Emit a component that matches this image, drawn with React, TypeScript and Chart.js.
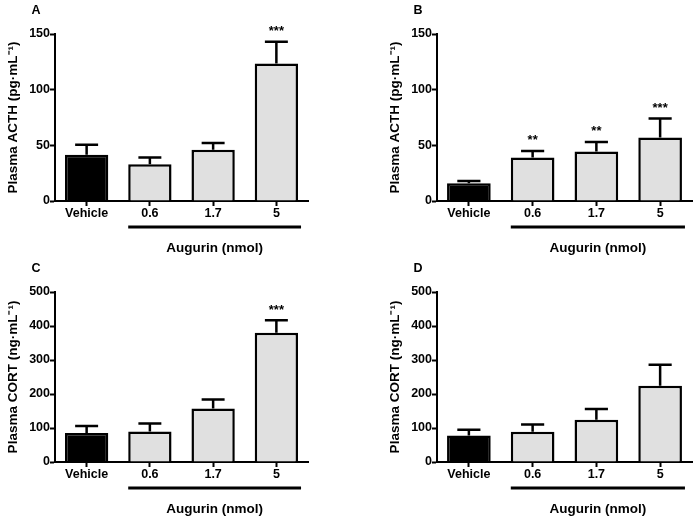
import React, { useEffect, useRef } from 'react';
import { Chart, registerables } from 'chart.js';

Chart.register(...registerables);

const FONT = '"Liberation Sans", Arial, Helvetica, sans-serif';

// ---- data ----
const categories = ['Vehicle', '0.6', '1.7', '5'];
const groupLabel = 'Augurin (nmol)';

const acthTitle = 'Plasma ACTH (pg·mL⁻¹)';
const cortTitle = 'Plasma CORT (ng·mL⁻¹)';
const acthMax = 150;
const acthStep = 50;
const cortMax = 500;
const cortStep = 100;

const acthA = [41.5, 33, 46, 123.5];
const acthASem = [9, 6, 6, 19.5];
const acthAStars = ['', '', '', '***'];

const acthB = [16, 39, 44.5, 57];
const acthBSem = [2, 6, 8.5, 17];
const acthBStars = ['', '**', '**', '***'];

const cortC = [85, 90, 157, 380];
const cortCSem = [21, 23, 27, 37];
const cortCStars = ['', '', '', '***'];

const cortD = [78, 89, 124, 224];
const cortDSem = [17, 21, 32, 62];
const cortDStars = ['', '', '', ''];

const barColors = ['#000000', '#e0e0e0', '#e0e0e0', '#e0e0e0'];

type PanelProps = {
  letter: string;
  values: number[];
  sem: number[];
  stars: string[];
  yTitle: string;
  yMax: number;
  yStep: number;
  left: number;
  top: number;
  padding: { left: number; right: number; top: number; bottom: number };
};

function Panel(p: PanelProps) {
  const ref = useRef<HTMLCanvasElement | null>(null);
  useEffect(() => {
    if (!ref.current) return;
    const annot = {
      id: 'annot',
      afterDatasetsDraw(chart: any) {
        const ctx = chart.ctx;
        const meta = chart.getDatasetMeta(0);
        const ys = chart.scales.y;
        const area = chart.chartArea;
        ctx.save();
        ctx.strokeStyle = '#000';
        ctx.fillStyle = '#000';
        ctx.lineWidth = 2.5;
        meta.data.forEach((bar: any, i: number) => {
          const x = bar.x;
          const top = ys.getPixelForValue(p.values[i]);
          const e = ys.getPixelForValue(p.values[i] + p.sem[i]);
          const cw = bar.width * 0.53;
          ctx.beginPath();
          ctx.moveTo(x, top);
          ctx.lineTo(x, e);
          ctx.moveTo(x - cw / 2, e);
          ctx.lineTo(x + cw / 2, e);
          ctx.stroke();
          if (p.stars[i]) {
            ctx.font = `bold 13px ${FONT}`;
            ctx.textAlign = 'center';
            ctx.textBaseline = 'alphabetic';
            ctx.fillText(p.stars[i], x, e - 6.5);
          }
        });
        const b1 = meta.data[1];
        const b3 = meta.data[3];
        const x0 = b1.x - b1.width / 2;
        const x1 = b3.x + b3.width / 2 + 3;
        ctx.lineWidth = 3;
        ctx.beginPath();
        ctx.moveTo(x0, area.bottom + 26);
        ctx.lineTo(x1, area.bottom + 26);
        ctx.stroke();
        ctx.font = `bold 13.5px ${FONT}`;
        ctx.textAlign = 'center';
        ctx.textBaseline = 'middle';
        ctx.fillText(groupLabel, (x0 + x1) / 2, area.bottom + 47);
        ctx.font = `bold 12.5px ${FONT}`;
        ctx.textAlign = 'left';
        ctx.fillText(p.letter, area.left - 23.5, 10.5);
        ctx.restore();
      },
    };
    const chart = new Chart(ref.current, {
      type: 'bar',
      data: {
        labels: categories,
        datasets: [
          {
            data: p.values,
            backgroundColor: barColors,
            borderColor: '#000',
            borderWidth: 2.5,
            barPercentage: 0.685,
            categoryPercentage: 1,
          },
        ],
      },
      options: {
        responsive: false,
        animation: false,
        devicePixelRatio: 1,
        layout: { padding: p.padding },
        plugins: { legend: { display: false }, tooltip: { enabled: false } },
        scales: {
          x: {
            afterFit(s: any) {
              s.height = 25;
            },
            grid: {
              offset: false,
              drawOnChartArea: false,
              drawTicks: true,
              tickLength: 5,
              tickWidth: 2,
              tickColor: '#000',
              color: '#000',
            },
            border: { color: '#000', width: 2 },
            ticks: {
              color: '#000',
              padding: 0,
              maxRotation: 0,
              font: { family: FONT, size: 12.5, weight: 'bold' },
            },
          },
          y: {
            min: 0,
            max: p.yMax,
            afterFit(s: any) {
              s.width = 55;
            },
            grid: {
              drawOnChartArea: false,
              drawTicks: true,
              tickLength: 5,
              tickWidth: 2,
              tickColor: '#000',
              color: '#000',
            },
            border: { color: '#000', width: 2 },
            ticks: {
              stepSize: p.yStep,
              color: '#000',
              padding: 0,
              font: { family: FONT, size: 12.5, weight: 'bold' },
            },
            title: {
              display: true,
              text: p.yTitle,
              color: '#000',
              padding: { top: 5, bottom: 0 },
              font: { family: FONT, size: 13.5, weight: 'bold' },
            },
          },
        },
      } as any,
      plugins: [annot],
    });
    return () => chart.destroy();
  }, []);
  return (
    <canvas
      ref={ref}
      width={346}
      height={258}
      style={{ position: 'absolute', left: p.left, top: p.top, width: 346, height: 258 }}
    />
  );
}

export default function App() {
  return (
    <div
      style={{
        position: 'absolute',
        left: 0,
        top: 0,
        width: 693,
        height: 516,
        background: '#fff',
        overflow: 'hidden',
      }}
    >
      <Panel
        letter="A"
        values={acthA}
        sem={acthASem}
        stars={acthAStars}
        yTitle={acthTitle}
        yMax={acthMax}
        yStep={acthStep}
        left={0}
        top={0}
        padding={{ left: 0, right: 38, top: 34, bottom: 32 }}
      />
      <Panel
        letter="B"
        values={acthB}
        sem={acthBSem}
        stars={acthBStars}
        yTitle={acthTitle}
        yMax={acthMax}
        yStep={acthStep}
        left={347}
        top={0}
        padding={{ left: 35, right: 1, top: 34, bottom: 32 }}
      />
      <Panel
        letter="C"
        values={cortC}
        sem={cortCSem}
        stars={cortCStars}
        yTitle={cortTitle}
        yMax={cortMax}
        yStep={cortStep}
        left={0}
        top={258}
        padding={{ left: 0, right: 38, top: 34, bottom: 29 }}
      />
      <Panel
        letter="D"
        values={cortD}
        sem={cortDSem}
        stars={cortDStars}
        yTitle={cortTitle}
        yMax={cortMax}
        yStep={cortStep}
        left={347}
        top={258}
        padding={{ left: 35, right: 1, top: 34, bottom: 29 }}
      />
    </div>
  );
}
